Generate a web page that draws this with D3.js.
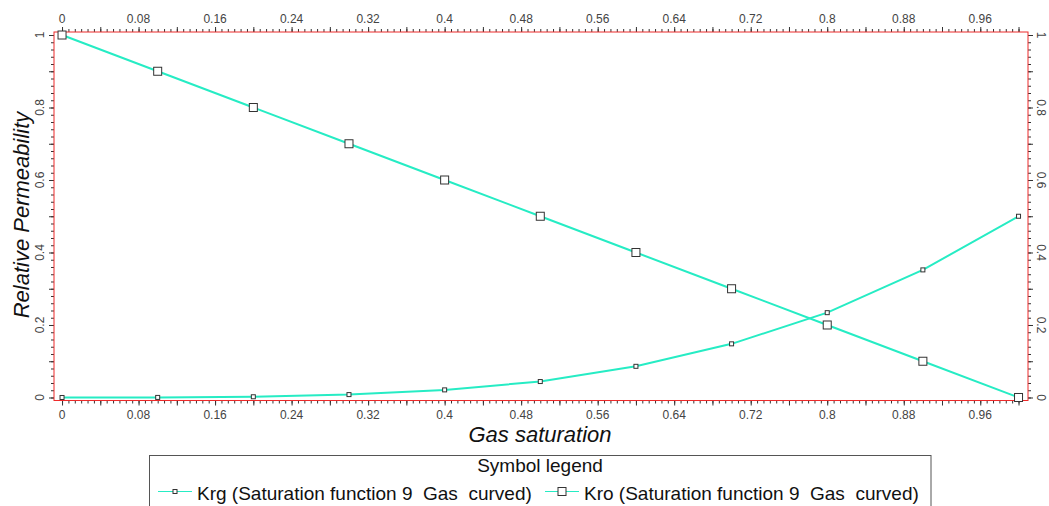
<!DOCTYPE html>
<html><head><meta charset="utf-8">
<script src="https://cdn.jsdelivr.net/npm/d3@7"></script>
<style>
body{margin:0;background:#fff;}
svg{display:block;font-family:"Liberation Sans",Arial,sans-serif;}
</style></head>
<body>
<svg id="c" width="1049" height="506"></svg>
<script>
// ---- data ----
const gasSat = [0, 0.1, 0.2, 0.3, 0.4, 0.5, 0.6, 0.7, 0.8, 0.9, 1.0];
const krg    = [0, 0.0002, 0.002, 0.008, 0.021, 0.044, 0.086, 0.148, 0.234, 0.352, 0.5];
const kro    = [1, 0.9, 0.8, 0.7, 0.6, 0.5, 0.4, 0.3, 0.2, 0.1, 0];
const xTickValues = [0, 0.08, 0.16, 0.24, 0.32, 0.4, 0.48, 0.56, 0.64, 0.72, 0.8, 0.88, 0.96];
const xTickLabels = ["0","0.08","0.16","0.24","0.32","0.4","0.48","0.56","0.64","0.72","0.8","0.88","0.96"];
const yTickValues = [0, 0.2, 0.4, 0.6, 0.8, 1];
const yTickLabels = ["0","0.2","0.4","0.6","0.8","1"];
const seriesNames = ["Krg (Saturation function 9  Gas  curved)", "Kro (Saturation function 9  Gas  curved)"];

const svg = d3.select("#c");
const L = 54, R = 1028, T = 32, B = 400.5;
const x = d3.scaleLinear().domain([-0.0084, 1.0099]).range([L, R]);
const y = d3.scaleLinear().domain([-0.0083, 1.0083]).range([B, T]);
const lineCol = "#26ecc4", frameCol = "#ee2a2a", tickCol = "#333", labCol = "#444";

// minor tick arrays
const xMinor = d3.range(0, 151).map(i => i / 150).filter(v => v <= 1.0099);
const xMed = d3.range(0, 26).map(i => i * 0.04);
const yMinor = d3.range(0, 51).map(i => i / 50);
const yMed = d3.range(0, 11).map(i => i / 10);

function drawAxis(axisFn, scale, transform, vals, size) {
  const g = svg.append("g").attr("transform", transform)
    .call(axisFn(scale).tickValues(vals).tickSize(size).tickFormat(""));
  g.select(".domain").remove();
  g.selectAll("line").attr("stroke", tickCol);
  return g;
}
// x axes (bottom & top)
drawAxis(d3.axisBottom, x, `translate(0,${B})`, xMinor, 3);
drawAxis(d3.axisBottom, x, `translate(0,${B})`, xMed, 5);
drawAxis(d3.axisTop, x, `translate(0,${T})`, xMinor, 3);
drawAxis(d3.axisTop, x, `translate(0,${T})`, xMed, 5);
// y axes (left & right)
drawAxis(d3.axisLeft, y, `translate(${L},0)`, yMinor, 3);
drawAxis(d3.axisLeft, y, `translate(${L},0)`, yMed, 5);
drawAxis(d3.axisRight, y, `translate(${R},0)`, yMinor, 3);
drawAxis(d3.axisRight, y, `translate(${R},0)`, yMed, 5);

// tick labels
const lab = svg.append("g").attr("font-size", 12).attr("fill", labCol).attr("text-anchor", "middle");
xTickValues.forEach((v, i) => {
  lab.append("text").attr("x", x(v)).attr("y", 419).text(xTickLabels[i]);
  lab.append("text").attr("x", x(v)).attr("y", 23).text(xTickLabels[i]);
});
yTickValues.forEach((v, i) => {
  lab.append("text").attr("transform", `translate(43.5,${y(v)}) rotate(-90)`).text(yTickLabels[i]);
  lab.append("text").attr("transform", `translate(1037,${y(v)}) rotate(90)`).text(yTickLabels[i]);
});

// frame
svg.append("rect").attr("x", L).attr("y", T).attr("width", R - L).attr("height", B - T)
  .attr("fill", "none").attr("stroke", frameCol).attr("stroke-width", 1);

// lines
const line = d3.line().x((d, i) => x(gasSat[i])).y(d => y(d));
[krg, kro].forEach(s => {
  svg.append("path").attr("d", line(s)).attr("fill", "none").attr("stroke", lineCol).attr("stroke-width", 2);
});
// markers
const msize = [4, 8];
[krg, kro].forEach((s, k) => {
  svg.append("g").selectAll("rect").data(s).join("rect")
    .attr("x", (d, i) => x(gasSat[i]) - msize[k] / 2)
    .attr("y", d => y(d) - msize[k] / 2)
    .attr("width", msize[k]).attr("height", msize[k])
    .attr("fill", "#fff").attr("stroke", "#333").attr("stroke-width", 1);
});

// axis titles
svg.append("text").attr("x", 540).attr("y", 441.5).attr("text-anchor", "middle")
  .attr("font-size", 22).attr("font-style", "italic").attr("fill", "#111").text("Gas saturation");
svg.append("text").attr("transform", "translate(29,215) rotate(-90)").attr("text-anchor", "middle")
  .attr("font-size", 22).attr("font-style", "italic").attr("fill", "#111").text("Relative Permeability");

// legend
const lg = svg.append("g");
lg.append("rect").attr("x", 149.5).attr("y", 455.5).attr("width", 781.5).attr("height", 70)
  .attr("fill", "#fff").attr("stroke", "#555").attr("stroke-width", 1);
lg.append("text").attr("x", 540).attr("y", 471.5).attr("text-anchor", "middle")
  .attr("font-size", 19).attr("fill", "#111").text("Symbol legend");
const entryX = [158, 545];
seriesNames.forEach((n, k) => {
  const ex = entryX[k], ey = 491.5;
  lg.append("line").attr("x1", ex).attr("x2", ex + 34).attr("y1", ey).attr("y2", ey)
    .attr("stroke", lineCol).attr("stroke-width", 1);
  lg.append("rect").attr("x", ex + 17 - msize[k] / 2).attr("y", ey - msize[k] / 2)
    .attr("width", msize[k]).attr("height", msize[k]).attr("fill", "#fff").attr("stroke", "#333");
  lg.append("text").attr("x", ex + 39).attr("y", 499.5).attr("font-size", 19).attr("fill", "#111")
    .style("white-space", "pre").text(n);
});
</script>
</body></html>
